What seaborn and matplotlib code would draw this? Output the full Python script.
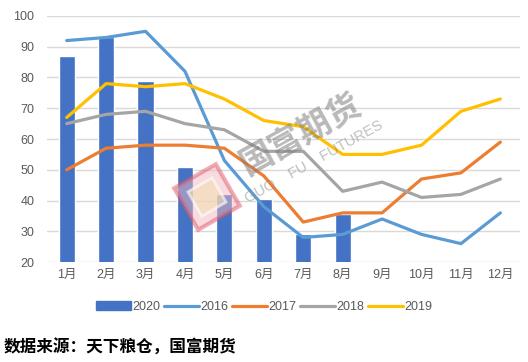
import numpy as np
import pandas as pd
import matplotlib
matplotlib.use("Agg")
import matplotlib.pyplot as plt
import matplotlib.patches as mpatches
import matplotlib.transforms as mtransforms
from matplotlib.lines import Line2D
import seaborn as sns

# data
months = ["1月", "2月", "3月", "4月", "5月", "6月", "7月", "8月", "9月", "10月", "11月", "12月"]
bar_2020 = [87, 93, 79, 51, 42, 40.5, 29, 35.5]
line_2016 = [92, 93, 95, 82, 53, 38, 28, 29, 34, 29, 26, 36]
line_2017 = [50, 57, 58, 58, 57, 48, 33, 36, 36, 47, 49, 59]
line_2018 = [65, 68, 69, 65, 63, 56, 56, 43, 46, 41, 42, 47]
line_2019 = [67, 78, 77, 78, 73, 66, 64, 55, 55, 58, 69, 73]
yticks = [20, 30, 40, 50, 60, 70, 80, 90, 100]

colors = {"2020": "#4472C4", "2016": "#5B9BD5", "2017": "#ED7D31",
          "2018": "#A5A5A5", "2019": "#FFC000"}

sns.set_theme(style="white")
plt.rcParams["font.family"] = ["Liberation Sans", "Noto Sans CJK SC", "DejaVu Sans"]

fig = plt.figure(figsize=(5.28, 3.62), dpi=100)
ax = fig.add_axes([0.089, 0.276, 0.896, 0.680])

bars_df = pd.DataFrame({"month": months[:len(bar_2020)], "value": bar_2020})
sns.barplot(data=bars_df, x="month", y="value", order=months, color=colors["2020"],
            width=0.41, saturation=1, ax=ax, zorder=2)

lines = {"2016": line_2016, "2017": line_2017, "2018": line_2018, "2019": line_2019}
long = pd.concat([pd.DataFrame({"idx": np.arange(len(months)), "value": v, "year": k})
                  for k, v in lines.items()], ignore_index=True)
sns.lineplot(data=long, x="idx", y="value", hue="year",
             palette={k: colors[k] for k in lines}, linewidth=2.3,
             legend=False, ax=ax, zorder=3)

ax.set_xlim(-0.5, len(months) - 0.5)
ax.set_ylim(20, 100)
ax.set_yticks(yticks)
ax.set_xticks(range(len(months)))
ax.set_xticklabels(months)
ax.set_xlabel("")
ax.set_ylabel("")
ax.yaxis.grid(True, color="#D9D9D9", linewidth=1, zorder=0)
ax.set_axisbelow(True)
for s in ax.spines.values():
    s.set_visible(False)
ax.tick_params(axis="y", length=0, pad=9, labelsize=9, labelcolor="#595959")
ax.tick_params(axis="x", length=0, pad=5, labelsize=9, labelcolor="#595959")

# watermark (logo + text), placed in pixel coords
fig.text(0.570, 0.627, "国富期货", rotation=29, fontsize=24, fontweight="bold",
         color="#7F7F7F", alpha=0.55, ha="center", va="center",
         family=["Noto Sans CJK SC"], zorder=5)
fig.text(0.595, 0.552, "GUO    FU    FUTURES", rotation=29, fontsize=10.5,
         color="#8C8C8C", alpha=0.55, ha="center", va="center", zorder=5)
logo_tf = mtransforms.Affine2D().rotate_deg(30).translate(207, 362 - 197)
outer = mpatches.Rectangle((-24, -24), 48, 48, transform=logo_tf,
                           facecolor="#F0B8C0", edgecolor="#E05A6A",
                           linewidth=3, alpha=0.5, zorder=5)
inner = mpatches.Rectangle((-14, -14), 28, 28, transform=logo_tf,
                           facecolor="#F3DDB5", edgecolor="#FFFFFF",
                           linewidth=2, alpha=0.6, zorder=5)
fig.patches.extend([outer, inner])

handles = [mpatches.Patch(color=colors["2020"], label="2020")]
for k in lines:
    handles.append(Line2D([0], [0], color=colors[k], linewidth=2.3,
                          solid_capstyle="round", label=k))
fig.legend(handles=handles, loc="center", bbox_to_anchor=(0.5, 0.152), ncol=5,
           frameon=False, fontsize=9, handlelength=2.8, columnspacing=0.3,
           handletextpad=0.1, labelcolor="#595959")

fig.text(0.006, 0.04, "数据来源：天下粮仓，国富期货", fontsize=12, fontweight="bold",
         color="black", ha="left", va="center", family=["Noto Sans CJK SC"])

fig.savefig("out.png", dpi=100)
